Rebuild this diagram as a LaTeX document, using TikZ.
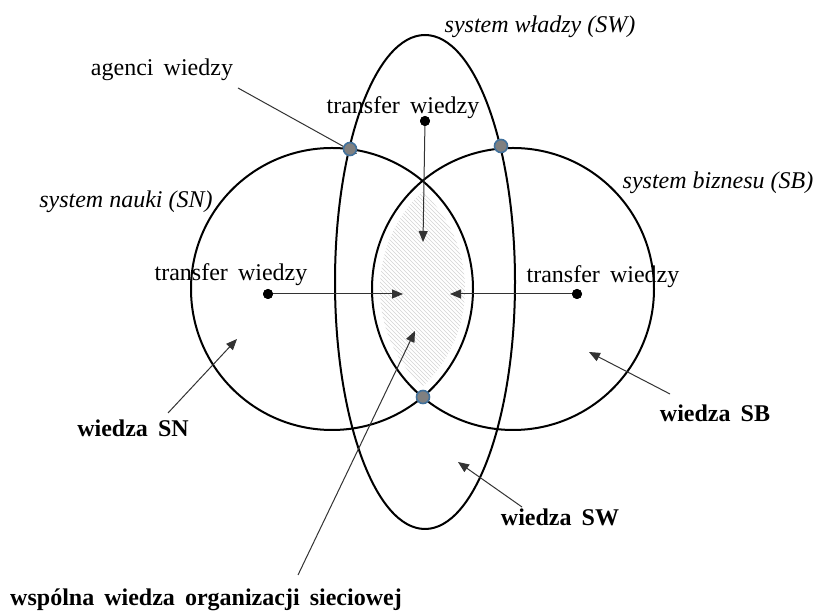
\documentclass[tikz,border=0pt]{standalone}
\usepackage{fontspec}
\setmainfont{Liberation Serif}
\usetikzlibrary{arrows.meta}
\definecolor{agentblue}{HTML}{41719C}
\begin{document}
\begin{tikzpicture}[x=0.5pt,y=-0.5pt,
  ring/.style={line width=1pt, draw=black},
  conn/.style={draw=black!80, line width=0.5pt, -{Triangle[length=5.5pt,width=4.5pt]}},
  blackdot/.style={circle, fill=black, inner sep=0pt, minimum size=5pt},
  agentdot/.style={circle, fill=black!50, draw=agentblue, line width=0.8pt, inner sep=0pt, minimum size=6.5pt},
  lab/.style={inner sep=0pt, font={\fontsize{12}{14}\selectfont\spaceskip=0.42em\relax}},
  blab/.style={inner sep=0pt, font={\fontsize{12}{14}\selectfont\bfseries\spaceskip=0.42em\relax}},
  ilab/.style={inner sep=0pt, font={\fontsize{12}{14}\selectfont\itshape}},
  hatch/.style={draw=black!17, line width=0.3pt}]
\useasboundingbox[fill=white] (0,0) rectangle (820,613);

% hatched common area
\begin{scope}
  \clip (332,289) circle[radius=133];
  \clip (513,289) circle[radius=133];
  \foreach \i in {-180,-176,...,150} \draw[hatch] (300+\i,150) -- ++(260,260);
\end{scope}

% systems
\draw[ring] (332,289) circle[radius=141];
\draw[ring] (513,289) circle[radius=141];
\draw[ring] (425,282) ellipse[x radius=90, y radius=247];

% labels
\node[lab] (agenci) at (162,70) {agenci wiedzy};
\node[lab] (trT) at (403,108) {transfer wiedzy};
\node[lab] (trL) at (231,275) {transfer wiedzy};
\node[lab] (trR) at (603,277) {transfer wiedzy};
\node[ilab] (sw) at (540,27) {system władzy (SW)};
\node[ilab] (sb) at (718,183) {system biznesu (SB)};
\node[ilab, anchor=east] (sn) at (213,202) {system nauki (SN)};
\node[blab] (wSN) at (133,428) {wiedza SN};
\node[blab] (wSB) at (715,413) {wiedza SB};
\node[blab] (wSW) at (560,517) {wiedza SW};
\node[blab] (wC) at (206,600) {wspólna wiedza organizacji sieciowej};

% coordinates
\coordinate (tipTop) at (423,242);
\coordinate (tipL) at (403,294);
\coordinate (tipR) at (450,294);
\coordinate (tipC) at (415,331);
\coordinate (tipSN) at (237,339);
\coordinate (tipSB) at (589,352);
\coordinate (tipSW) at (458,462);
\coordinate (tipAg) at (357,154);
\coordinate (sAg) at (238,88);
\coordinate (sSN) at (168,413);
\coordinate (sSB) at (670,394);
\coordinate (sSW) at (522,507);
\coordinate (sC) at (298,575);

% transfer dots
\node[blackdot] (dT) at (425,121) {};
\node[blackdot] (dL) at (268,294) {};
\node[blackdot] (dR) at (577,294) {};

% arrows
\draw[conn] (dT.center) -- (tipTop);
\draw[conn] (dL.center) -- (tipL);
\draw[conn] (dR.center) -- (tipR);
\draw[conn] (sAg) -- (tipAg);
\draw[conn] (sSN) -- (tipSN);
\draw[conn] (sSB) -- (tipSB);
\draw[conn] (sSW) -- (tipSW);
\draw[conn] (sC) -- (tipC);

% redraw transfer dots on top
\node[blackdot] at (dT) {};
\node[blackdot] at (dL) {};
\node[blackdot] at (dR) {};

% knowledge agents
\node[agentdot] (aL) at (350,149) {};
\node[agentdot] (aR) at (501,146) {};
\node[agentdot] (aB) at (423,397) {};
\end{tikzpicture}
\end{document}
